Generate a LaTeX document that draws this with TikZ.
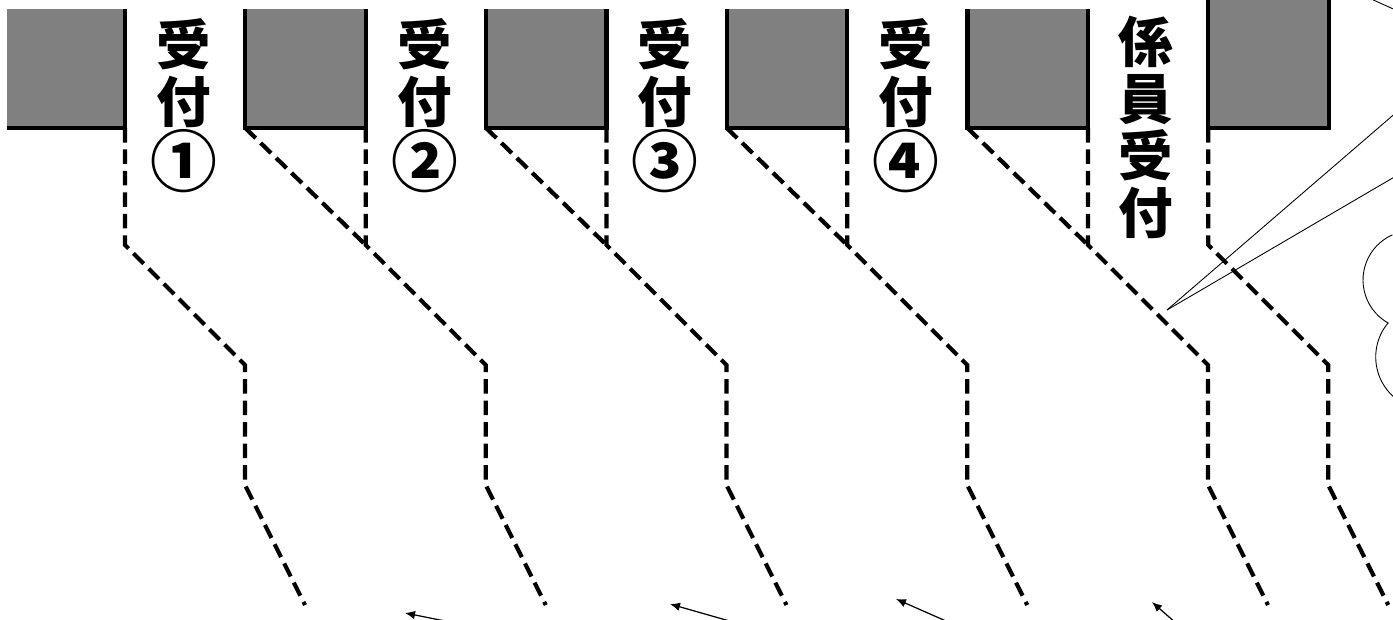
\documentclass[tikz,border=0pt]{standalone}
\usepackage{fontspec}
\newfontfamily\jpfont{Noto Sans CJK JP}
\usetikzlibrary{arrows.meta}
\newcommand{\bignum}[1]{{\fontsize{38}{32.4}\selectfont #1}}
\tikzset{
        desk/.style={fill=black!50},
        deskedge/.style={line width=2.4pt, line join=miter},
        lane/.style={line width=2.4pt, dash pattern=on 0.29cm off 0.14cm},
        lanelabel/.style={anchor=north, inner sep=0pt, align=center, font=\jpfont\bfseries\fontsize{31}{32.4}\selectfont},
        pointer/.style={-{Latex[length=0.2cm,width=0.17cm]}, line width=0.7pt},
        callout/.style={line width=0.5pt},
    }
\begin{document}
\begin{tikzpicture}[x=0.02cm, y=0.02cm]
        \useasboundingbox (0,0) rectangle (1393,-619);
        \clip (0,0) rectangle (1393,-619);

        % desks
        \fill[desk] (7,-9) rectangle (125,-128);
        \draw[deskedge] (7,-128) -- (125,-128) -- (125,-9);
        \foreach \l in {245.25,486,726.75,967.5} {
            \fill[desk] (\l,-9) rectangle (\l+120.5,-128);
            \draw[deskedge] (\l,-9) -- (\l,-128) -- (\l+120.5,-128) -- (\l+120.5,-9);
        }
        \fill[desk] (1208.25,5) rectangle (1328.75,-128);
        \draw[deskedge] (1208.25,5) -- (1208.25,-128) -- (1328.75,-128) -- (1328.75,5);

        % queue lanes
        \foreach \r in {125,365.75,606.5,847.25,1088}
            \draw[lane] (\r,-128) -- (\r,-245) -- (\r+120,-365) -- (\r+120,-485) -- (\r+180,-605);
        \foreach \l in {245.25,486,726.75,967.5}
            \draw[lane] (\l,-128) -- (\l+120.5,-245);
        \draw[lane] (1208.25,-128) -- (1208.25,-245) -- (1328.25,-365) -- (1328.25,-485) -- (1388.25,-605);

        % counter labels
        \node[lanelabel] (label1) at (184,-18) {受\\付\\\bignum{①}};
        \node[lanelabel] (label2) at (425,-18) {受\\付\\\bignum{②}};
        \node[lanelabel] (label3) at (665,-18) {受\\付\\\bignum{③}};
        \node[lanelabel] (label4) at (906,-18) {受\\付\\\bignum{④}};
        \node[lanelabel] (label5) at (1146,-16) {係\\員\\受\\付};

        % callout and cloud
        \coordinate (tip) at (1167,-310);
        \draw[callout] (tip) -- (1420,-92);
        \draw[callout] (tip) -- (1420,-162);
        \draw[callout] (1360,6) -- (1420,-21);
        \draw[callout] (1412.4,-280) ++(114:0.988cm) arc[start angle=114, end angle=241, radius=0.988cm];
        \draw[callout] (1429,-357) ++(140:1.066cm) arc[start angle=140, end angle=235, radius=1.066cm];

        % flow arrows
        \draw[pointer] (455,-623) -- (405,-613);
        \draw[pointer] (740,-624) -- (670,-604);
        \draw[pointer] (955,-625) -- (896,-599);
        \draw[pointer] (1177,-624) -- (1152,-602);
    \end{tikzpicture}
\end{document}
